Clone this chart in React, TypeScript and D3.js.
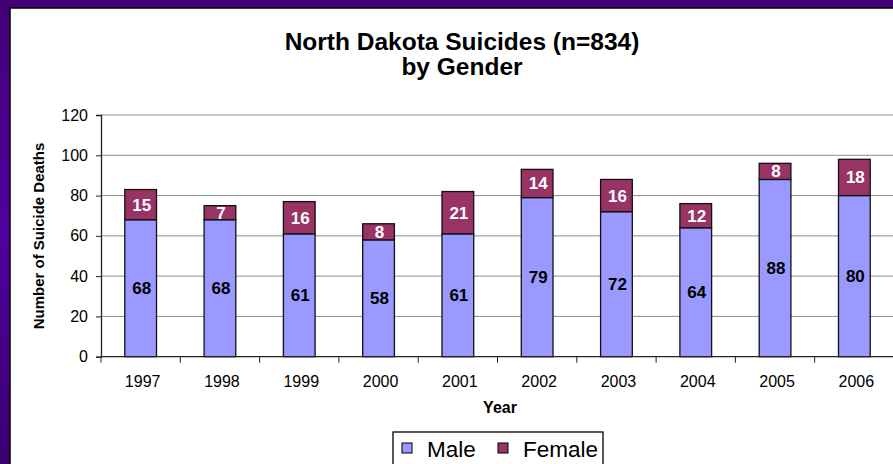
import React, { useEffect, useRef } from 'react';
import * as d3 from 'd3';

const years = ['1997', '1998', '1999', '2000', '2001', '2002', '2003', '2004', '2005', '2006'];
const male = [68, 68, 61, 58, 61, 79, 72, 64, 88, 80];
const female = [15, 7, 16, 8, 21, 14, 16, 12, 8, 18];
const yTicks = [0, 20, 40, 60, 80, 100, 120];

const FONT = "'Liberation Sans', Arial, sans-serif";

const App = () => {
  const svgRef = useRef<SVGSVGElement>(null);

  useEffect(() => {
    const svg = d3.select(svgRef.current);
    svg.selectAll('*').remove();

    const W = 893;
    const H = 464;

    // slide frame
    const grad = svg.append('defs').append('linearGradient')
      .attr('id', 'frame').attr('x1', 0).attr('y1', 0).attr('x2', 0).attr('y2', 1);
    grad.append('stop').attr('offset', '0%').attr('stop-color', '#440077');
    grad.append('stop').attr('offset', '50%').attr('stop-color', '#5000a0');
    grad.append('stop').attr('offset', '100%').attr('stop-color', '#3a0070');
    svg.append('rect').attr('width', W).attr('height', H).attr('fill', 'url(#frame)');
    svg.append('rect').attr('x', 10).attr('y', 8).attr('width', W).attr('height', H)
      .attr('fill', '#fff').attr('stroke', '#000').attr('stroke-width', 1.5);

    const x = d3.scaleBand().domain(years).range([101, 894]).padding(0);
    const y = d3.scaleLinear().domain([0, 120]).range([356.7, 115]);
    const barW = x.bandwidth() * 0.4;

    // gridlines
    svg.append('g').selectAll('line').data(yTicks.filter(d => d > 0)).enter().append('line')
      .attr('x1', 101).attr('x2', W).attr('y1', d => y(d)).attr('y2', d => y(d))
      .attr('stroke', '#8c8c8c').attr('stroke-width', 1);

    // y axis
    const yAxis = svg.append('g').attr('transform', 'translate(101,0)')
      .call(d3.axisLeft(y).tickValues(yTicks).tickSize(5).tickPadding(8));
    yAxis.select('.domain').attr('stroke', '#222').attr('stroke-width', 1.3);
    yAxis.selectAll('line').attr('stroke', '#222');
    yAxis.selectAll('text').attr('font-family', FONT).attr('font-size', 16).attr('fill', '#000');

    // bars
    const g = svg.append('g');
    years.forEach((yr, i) => {
      const cx = x(yr)! + x.bandwidth() / 2;
      g.append('rect')
        .attr('x', cx - barW / 2).attr('width', barW)
        .attr('y', y(male[i])).attr('height', y(0) - y(male[i]))
        .attr('fill', '#9999ff').attr('stroke', '#111').attr('stroke-width', 1.3);
      g.append('rect')
        .attr('x', cx - barW / 2).attr('width', barW)
        .attr('y', y(male[i] + female[i])).attr('height', y(male[i]) - y(male[i] + female[i]))
        .attr('fill', '#993366').attr('stroke', '#111').attr('stroke-width', 1.3);
      g.append('text')
        .attr('x', cx + 1).attr('y', y(male[i] / 2) + 6)
        .attr('text-anchor', 'middle').attr('font-family', FONT).attr('font-weight', 'bold')
        .attr('font-size', 17).attr('fill', '#000').text(male[i]);
      g.append('text')
        .attr('x', cx + 1).attr('y', y(male[i] + female[i] / 2) + 6)
        .attr('text-anchor', 'middle').attr('font-family', FONT).attr('font-weight', 'bold')
        .attr('font-size', 17).attr('fill', '#fff').text(female[i]);
    });

    // x axis
    svg.append('line').attr('x1', 101).attr('x2', W).attr('y1', y(0)).attr('y2', y(0))
      .attr('stroke', '#222').attr('stroke-width', 1.3);
    svg.append('g').selectAll('line').data(years).enter().append('line')
      .attr('x1', d => x(d)!).attr('x2', d => x(d)!)
      .attr('y1', y(0)).attr('y2', y(0) + 6).attr('stroke', '#222');
    svg.append('g').selectAll('text').data(years).enter().append('text')
      .attr('x', d => x(d)! + x.bandwidth() / 2 + 2).attr('y', 387)
      .attr('text-anchor', 'middle').attr('font-family', FONT).attr('font-size', 16)
      .text(d => d);

    // titles
    svg.append('text').attr('x', 462).attr('y', 50).attr('text-anchor', 'middle')
      .attr('font-family', FONT).attr('font-weight', 'bold').attr('font-size', 24.5)
      .text('North Dakota Suicides (n=834)');
    svg.append('text').attr('x', 462).attr('y', 75).attr('text-anchor', 'middle')
      .attr('font-family', FONT).attr('font-weight', 'bold').attr('font-size', 24.5)
      .text('by Gender');
    svg.append('text').attr('x', 500).attr('y', 413).attr('text-anchor', 'middle')
      .attr('font-family', FONT).attr('font-weight', 'bold').attr('font-size', 16)
      .text('Year');
    svg.append('text').attr('transform', 'translate(44,236) rotate(-90)')
      .attr('text-anchor', 'middle')
      .attr('font-family', FONT).attr('font-weight', 'bold').attr('font-size', 15)
      .text('Number of Suicide Deaths');

    // legend
    const lg = svg.append('g');
    lg.append('rect').attr('x', 393).attr('y', 432).attr('width', 210).attr('height', 40)
      .attr('fill', '#fff').attr('stroke', '#000').attr('stroke-width', 1.3);
    const items = [
      { name: 'Male', color: '#9999ff', x: 402 },
      { name: 'Female', color: '#993366', x: 498 },
    ];
    items.forEach(it => {
      lg.append('rect').attr('x', it.x).attr('y', 443).attr('width', 10).attr('height', 10)
        .attr('fill', it.color).attr('stroke', '#000').attr('stroke-width', 1);
      lg.append('text').attr('x', it.x + 25).attr('y', 457)
        .attr('font-family', FONT).attr('font-size', 22.5).text(it.name);
    });
  }, []);

  return (
    <svg ref={svgRef} width={893} height={464}
      style={{ position: 'absolute', left: 0, top: 0, display: 'block' }} />
  );
};

export default App;
